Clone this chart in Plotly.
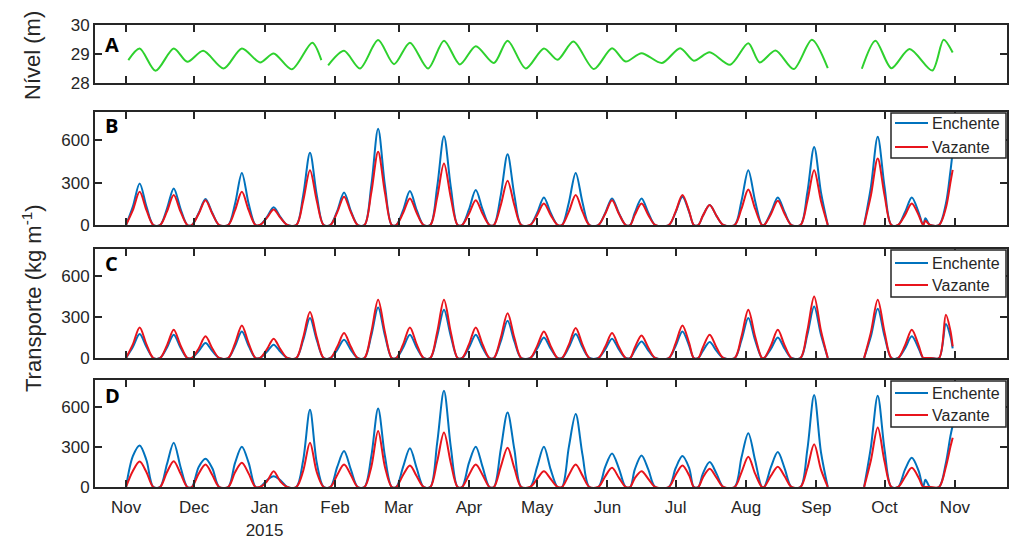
import plotly.graph_objects as go

# ---------------- Panel A : water level ----------------
level_dates = [
    "2014-11-02", "2014-11-07", "2014-11-14", "2014-11-22", "2014-11-28", "2014-12-05",
    "2014-12-14", "2014-12-22", "2014-12-30", "2015-01-05", "2015-01-13", "2015-01-22",
    "2015-01-26", None,
    "2015-01-29", "2015-02-05", "2015-02-12", "2015-02-20", "2015-02-27", "2015-03-06",
    "2015-03-14", "2015-03-21", "2015-03-28", "2015-04-04", "2015-04-12", "2015-04-18",
    "2015-04-26", "2015-05-04", "2015-05-10", "2015-05-17", "2015-05-26", "2015-06-03",
    "2015-06-09", "2015-06-16", "2015-06-25", "2015-07-03", "2015-07-09", "2015-07-16",
    "2015-07-25", "2015-08-02", "2015-08-07", "2015-08-14", "2015-08-22", "2015-08-30",
    "2015-09-06", None,
    "2015-09-21", "2015-09-27", "2015-10-04", "2015-10-12", "2015-10-22", "2015-10-27",
    "2015-10-31",
]
level_values = [
    28.79, 29.19, 28.42, 29.19, 28.73, 29.11,
    28.50, 29.19, 28.71, 29.02, 28.47, 29.39,
    28.79, None,
    28.61, 29.11, 28.50, 29.48, 28.65, 29.39,
    28.50, 29.46, 28.64, 29.27, 28.69, 29.46,
    28.50, 29.19, 28.80, 29.43, 28.48, 29.20,
    28.74, 29.03, 28.69, 29.20, 28.77, 29.06,
    28.63, 29.37, 28.71, 29.12, 28.48, 29.49,
    28.51, None,
    28.49, 29.46, 28.51, 29.17, 28.43, 29.49,
    29.05,
]

# ---------------- Panels B-D : transport ----------------
# sample dates, one row per fortnightly event
transport_dates = [
    ["2014-11-01", "2014-11-04", "2014-11-07", "2014-11-10", "2014-11-13"],
    ["2014-11-16", "2014-11-19", "2014-11-22", "2014-11-25", "2014-11-28"],
    ["2014-11-30", "2014-12-03", "2014-12-06", "2014-12-09", "2014-12-12"],
    ["2014-12-16", "2014-12-19", "2014-12-22", "2014-12-25", "2014-12-28"],
    ["2014-12-30", "2015-01-02", "2015-01-05", "2015-01-08", "2015-01-11"],
    ["2015-01-15", "2015-01-18", "2015-01-21", "2015-01-24", "2015-01-27"],
    ["2015-01-30", "2015-02-02", "2015-02-05", "2015-02-08", "2015-02-11"],
    ["2015-02-14", "2015-02-17", "2015-02-20", "2015-02-23", "2015-02-26"],
    ["2015-02-28", "2015-03-03", "2015-03-06", "2015-03-09", "2015-03-12"],
    ["2015-03-15", "2015-03-18", "2015-03-21", "2015-03-24", "2015-03-27"],
    ["2015-03-29", "2015-04-01", "2015-04-04", "2015-04-07", "2015-04-10"],
    ["2015-04-12", "2015-04-15", "2015-04-18", "2015-04-21", "2015-04-24"],
    ["2015-04-28", "2015-05-01", "2015-05-04", "2015-05-07", "2015-05-10"],
    ["2015-05-12", "2015-05-15", "2015-05-18", "2015-05-21", "2015-05-24"],
    ["2015-05-28", "2015-05-31", "2015-06-03", "2015-06-06", "2015-06-09"],
    ["2015-06-11", "2015-06-13", "2015-06-16", "2015-06-19", "2015-06-22"],
    ["2015-06-28", "2015-07-01", "2015-07-04", "2015-07-07", "2015-07-09"],
    ["2015-07-11", "2015-07-13", "2015-07-16", "2015-07-19", "2015-07-22"],
    ["2015-07-27", "2015-07-30", "2015-08-02", "2015-08-05", "2015-08-08"],
    ["2015-08-09", "2015-08-12", "2015-08-15", "2015-08-18", "2015-08-21"],
    ["2015-08-25", "2015-08-28", "2015-08-31", "2015-09-03", "2015-09-06"],
    [None],
    ["2015-09-22", "2015-09-25", "2015-09-28", "2015-10-01", "2015-10-04"],
    ["2015-10-07", "2015-10-10", "2015-10-13", "2015-10-16", "2015-10-18"],
    ["2015-10-19", "2015-10-21"],
    ["2015-10-25", "2015-10-28", "2015-10-30", "2015-10-31"],
]

B_enchente = [
    [0, 130, 294, 130, 0], [0, 115, 259, 115, 0], [0, 85, 184, 85, 0], [0, 150, 369, 150, 0],
    [0, 55, 125, 55, 0], [0, 210, 511, 210, 0], [0, 100, 230, 100, 0], [0, 280, 682, 280, 0],
    [0, 105, 240, 105, 0], [0, 270, 628, 270, 0], [0, 110, 247, 110, 0], [0, 210, 501, 210, 0],
    [0, 85, 195, 85, 0], [0, 160, 369, 160, 0], [0, 85, 188, 85, 0], [0, 85, 188, 85, 0],
    [0, 90, 200, 90, 0], [0, 65, 141, 65, 0], [0, 170, 388, 170, 0], [0, 90, 195, 90, 0],
    [0, 230, 553, 230, 0], [None],
    [0, 270, 624, 270, 0], [0, 90, 195, 90, 0], [47, 0], [0, 150, 380, 520],
]
B_vazante = [
    [0, 105, 235, 105, 0], [0, 95, 212, 95, 0], [0, 80, 176, 80, 0], [0, 105, 235, 105, 0],
    [0, 50, 110, 50, 0], [0, 170, 388, 170, 0], [0, 90, 200, 90, 0], [0, 230, 518, 230, 0],
    [0, 85, 188, 85, 0], [0, 195, 435, 195, 0], [0, 80, 176, 80, 0], [0, 140, 313, 140, 0],
    [0, 70, 153, 70, 0], [0, 95, 212, 95, 0], [0, 80, 176, 80, 0], [0, 70, 153, 70, 0],
    [0, 95, 212, 95, 0], [0, 65, 141, 65, 0], [0, 115, 252, 115, 0], [0, 78, 172, 78, 0],
    [0, 170, 388, 170, 0], [None],
    [0, 210, 471, 210, 0], [0, 70, 153, 70, 0], [30, 0], [0, 120, 300, 390],
]
C_enchente = [
    [0, 80, 176, 80, 0], [0, 75, 171, 75, 0], [0, 50, 110, 50, 0], [0, 88, 195, 88, 0],
    [0, 45, 98, 45, 0], [0, 130, 293, 130, 0], [0, 60, 134, 60, 0], [0, 165, 371, 165, 0],
    [0, 75, 171, 75, 0], [0, 160, 354, 160, 0], [0, 75, 171, 75, 0], [0, 122, 273, 122, 0],
    [0, 68, 151, 68, 0], [0, 78, 176, 78, 0], [0, 63, 142, 63, 0], [0, 55, 122, 55, 0],
    [0, 88, 195, 88, 0], [0, 52, 117, 52, 0], [0, 130, 293, 130, 0], [0, 68, 151, 68, 0],
    [0, 170, 378, 170, 0], [None],
    [0, 160, 361, 160, 0], [0, 70, 159, 70, 0], [0, 0], [0, 250, 160, 70],
]
C_vazante = [
    [0, 100, 224, 100, 0], [0, 92, 207, 92, 0], [0, 70, 159, 70, 0], [0, 107, 239, 107, 0],
    [0, 63, 142, 63, 0], [0, 150, 337, 150, 0], [0, 82, 183, 82, 0], [0, 190, 427, 190, 0],
    [0, 100, 224, 100, 0], [0, 190, 427, 190, 0], [0, 100, 224, 100, 0], [0, 148, 329, 148, 0],
    [0, 87, 195, 87, 0], [0, 98, 220, 98, 0], [0, 82, 183, 82, 0], [0, 75, 166, 75, 0],
    [0, 107, 239, 107, 0], [0, 77, 171, 77, 0], [0, 158, 354, 158, 0], [0, 92, 207, 92, 0],
    [0, 200, 451, 200, 0], [None],
    [0, 190, 427, 190, 0], [0, 92, 207, 92, 0], [0, 0], [0, 317, 200, 85],
]
D_enchente = [
    [0, 230, 311, 200, 0], [0, 170, 331, 150, 0], [0, 150, 211, 140, 0], [0, 180, 301, 180, 0],
    [0, 50, 80, 50, 0], [0, 200, 577, 180, 0], [0, 150, 269, 130, 0], [0, 230, 587, 230, 0],
    [0, 150, 289, 140, 0], [0, 330, 720, 300, 0], [0, 180, 301, 150, 0], [0, 280, 557, 280, 0],
    [0, 150, 301, 130, 0], [0, 300, 545, 240, 0], [0, 150, 251, 140, 0], [0, 130, 236, 130, 0],
    [0, 140, 231, 140, 0], [0, 100, 186, 100, 0], [0, 220, 402, 200, 0], [0, 150, 261, 140, 0],
    [0, 280, 688, 260, 0], [None],
    [0, 300, 683, 280, 0], [0, 130, 218, 120, 0], [55, 0], [0, 180, 380, 460],
]
D_vazante = [
    [0, 120, 190, 110, 0], [0, 110, 193, 100, 0], [0, 100, 168, 90, 0], [0, 110, 181, 100, 0],
    [0, 40, 118, 40, 0], [0, 120, 331, 110, 0], [0, 90, 168, 90, 0], [0, 150, 419, 150, 0],
    [0, 90, 161, 80, 0], [0, 190, 407, 180, 0], [0, 90, 168, 90, 0], [0, 150, 294, 140, 0],
    [0, 60, 118, 60, 0], [0, 90, 168, 85, 0], [0, 80, 143, 70, 0], [0, 65, 118, 60, 0],
    [0, 90, 161, 85, 0], [0, 70, 136, 70, 0], [0, 110, 226, 100, 0], [0, 85, 151, 80, 0],
    [0, 140, 319, 130, 0], [None],
    [0, 200, 444, 190, 0], [0, 75, 143, 70, 0], [0, 0], [0, 150, 300, 369],
]

month_ticks = ["2014-11-01", "2014-12-01", "2015-01-01", "2015-02-01", "2015-03-01",
               "2015-04-01", "2015-05-01", "2015-06-01", "2015-07-01", "2015-08-01",
               "2015-09-01", "2015-10-01", "2015-11-01"]
month_labels = ["Nov", "Dec", "Jan<br>2015", "Feb", "Mar", "Apr", "May", "Jun",
                "Jul", "Aug", "Sep", "Oct", "Nov"]
panel_letters = ["A", "B", "C", "D"]
series_names = ["Enchente", "Vazante"]


def flat(rows):
    out = []
    for r in rows:
        out.extend(r)
    return out


t_x = flat(transport_dates)

BLUE = "#0072BD"
RED = "#E8141C"
GREEN = "#2ED12E"
INK = "#262626"
FONT = "Liberation Sans, Arial, sans-serif"

# screen geometry (page body has an 8 px margin, so the figure is shrunk by it)
PAGE_W, PAGE_H, BODY = 1024, 538, 8
W, H = PAGE_W - BODY, PAGE_H - BODY
L, R, T, B = 95, 1007, 25, 487          # plot area in screen pixels


def px_x(p):
    return (p - L) / (R - L)


def px_y(p):
    return 1 - (p - T) / (B - T)


fig = go.Figure()
fig.add_trace(go.Scatter(x=level_dates, y=level_values, mode="lines",
                         line=dict(color=GREEN, width=2, shape="spline", smoothing=0.8),
                         showlegend=False, xaxis="x", yaxis="y"))

panels = [("x2", "y2", B_enchente, B_vazante),
          ("x3", "y3", C_enchente, C_vazante),
          ("x4", "y4", D_enchente, D_vazante)]
for xa, ya, ench, vaz in panels:
    fig.add_trace(go.Scatter(x=t_x, y=flat(ench), mode="lines", name=series_names[0],
                             line=dict(color=BLUE, width=2, shape="spline", smoothing=0.9),
                             xaxis=xa, yaxis=ya, showlegend=False))
    fig.add_trace(go.Scatter(x=t_x, y=flat(vaz), mode="lines", name=series_names[1],
                             line=dict(color=RED, width=2, shape="spline", smoothing=0.9),
                             xaxis=xa, yaxis=ya, showlegend=False))

# panel pixel extents (top, bottom)
panel_px = [(25, 83), (112, 225), (249, 358), (380, 487)]
domains = [(px_y(b), px_y(t)) for t, b in panel_px]
xrange_ = ["2014-10-18 08:00", "2015-11-23 22:00"]

common = dict(showline=True, linecolor=INK, linewidth=2, mirror="allticks",
              ticks="inside", tickcolor=INK, tickwidth=1.5, showgrid=False,
              zeroline=False, automargin=False,
              tickfont=dict(family=FONT, size=17, color=INK))

layout = dict(width=W, height=H, plot_bgcolor="white", paper_bgcolor="white",
              margin=dict(l=L - BODY, r=PAGE_W - R, t=T - BODY, b=PAGE_H - B, autoexpand=False),
              font=dict(family=FONT, color=INK), showlegend=False)
for i in range(4):
    sfx = "" if i == 0 else str(i + 1)
    xa = dict(common, type="date", range=xrange_, domain=[0, 1], anchor="y" + sfx,
              tickvals=month_ticks, ticktext=month_labels, ticklen=7,
              showticklabels=(i == 3), ticklabelstandoff=4)
    lo, hi = domains[i]
    if i == 0:
        ya = dict(common, range=[28, 30], tickvals=[28, 29, 30], domain=[max(lo, 0), min(hi, 1)],
                  anchor="x" + sfx, ticklen=7)
    else:
        ya = dict(common, range=[0, 800], tickvals=[0, 300, 600], domain=[max(lo, 0), min(hi, 1)],
                  anchor="x" + sfx, ticklen=7)
    layout["xaxis" + sfx] = xa
    layout["yaxis" + sfx] = ya

fig.update_layout(**layout)

# legend boxes drawn inside panels B-D (top-right corner)
legend_px = [(113, 158, 123, 147), (250, 297, 263, 285), (381, 427, 393, 415)]
shapes = []
for top, bot, yb, yr in legend_px:
    shapes.append(dict(type="rect", xref="paper", yref="paper",
                       x0=px_x(891), x1=px_x(1006), y0=px_y(bot), y1=px_y(top),
                       fillcolor="white", line=dict(color=INK, width=1.5), layer="above"))
    for yy, col in ((yb, BLUE), (yr, RED)):
        shapes.append(dict(type="line", xref="paper", yref="paper",
                           x0=px_x(895), x1=px_x(928), y0=px_y(yy), y1=px_y(yy),
                           line=dict(color=col, width=2), layer="above"))
fig.update_layout(shapes=shapes)

for top, bot, yb, yr in legend_px:
    for yy, name in ((yb, series_names[0]), (yr, series_names[1])):
        fig.add_annotation(text=name, x=px_x(930), y=px_y(yy), xref="paper", yref="paper",
                           xanchor="left", yanchor="middle", showarrow=False,
                           font=dict(family=FONT, size=16, color=INK))

letter_px_y = [45, 126, 263, 395]
for letter, yy in zip(panel_letters, letter_px_y):
    fig.add_annotation(text="<b>" + letter + "</b>", x=px_x(103), y=px_y(yy),
                       xref="paper", yref="paper", xanchor="left", yanchor="middle",
                       showarrow=False,
                       font=dict(family="Open Sans, Liberation Sans, Arial", size=20, color="black"))

fig.add_annotation(text="Nível (m)", x=px_x(32), y=px_y(55), xref="paper", yref="paper",
                   textangle=-90, showarrow=False, xanchor="center", yanchor="middle",
                   font=dict(family=FONT, size=22, color=INK))
fig.add_annotation(text="Transporte (kg m<sup>-1</sup>)", x=px_x(32), y=px_y(298),
                   xref="paper", yref="paper", textangle=-90, showarrow=False,
                   xanchor="center", yanchor="middle",
                   font=dict(family=FONT, size=22, color=INK))

fig.write_html("out.html")
